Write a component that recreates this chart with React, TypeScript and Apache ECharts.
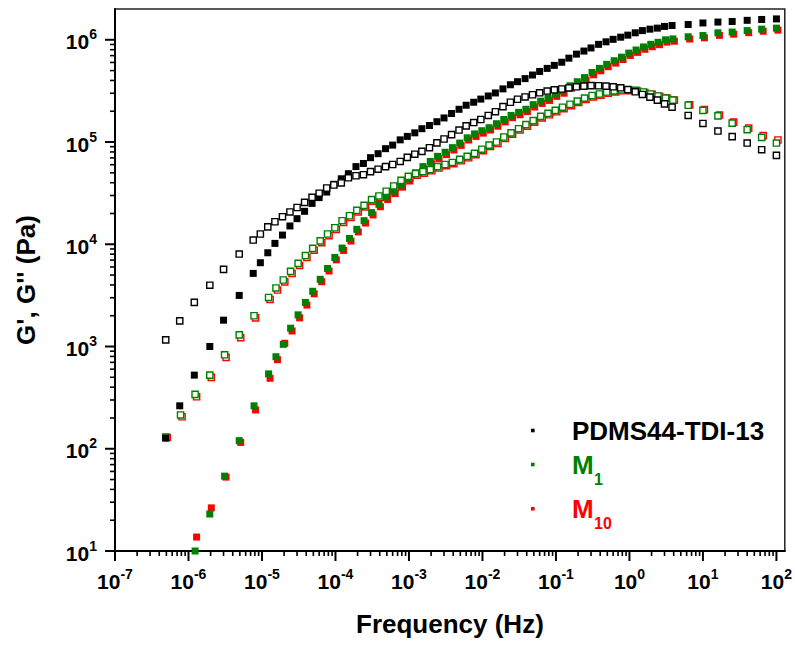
import React, { useEffect, useRef } from "react";
import * as echarts from "echarts";

// ---------- data (frequency in Hz, moduli in Pa) ----------
const freqPDMS = [
  4.9e-7, 7.6e-7, 1.2e-6, 1.95e-6, 3.0e-6, 4.9e-6,
  7.6e-6, 9.5e-6, 1.2e-5, 1.5e-5, 1.9e-5, 2.4e-5, 3.0e-5, 3.8e-5, 4.8e-5, 6.0e-5, 7.6e-5, 9.5e-5,
  1.2e-4, 1.5e-4, 1.9e-4, 2.4e-4, 3.0e-4, 3.8e-4, 4.8e-4, 6.0e-4, 7.6e-4, 9.5e-4,
  1.2e-3, 1.5e-3, 1.9e-3, 2.4e-3, 3.0e-3, 3.8e-3, 4.8e-3, 6.0e-3, 7.6e-3, 9.5e-3,
  0.012, 0.015, 0.019, 0.024, 0.030, 0.038, 0.048, 0.060, 0.076, 0.095,
  0.12, 0.15, 0.19, 0.24, 0.30, 0.38, 0.48, 0.60, 0.76, 0.95,
  1.2, 1.5, 1.9, 2.4, 3.0, 3.8,
  6.3, 10, 16, 25, 40, 63, 100,
];
const gPrimePDMS = [
  127, 263, 525, 1000, 1810, 3160,
  5190, 6600, 8260, 10200, 12300, 15100, 17800, 21000, 25100, 28600, 32400, 38600,
  43700, 49000, 57500, 61700, 70300, 76900, 86100, 93300, 105000, 113500,
  123000, 135000, 145000, 158000, 172000, 190000, 209000, 229000, 245000, 263000,
  282000, 302000, 331000, 363000, 389000, 417000, 452000, 490000, 525000, 562000,
  603000, 661000, 724000, 776000, 832000, 902000, 955000, 1010000, 1060000, 1110000,
  1170000, 1230000, 1270000, 1300000, 1350000, 1380000,
  1410000, 1460000, 1490000, 1510000, 1550000, 1580000, 1600000,
];
const gDoublePrimePDMS = [
  1160, 1780, 2700, 3980, 5680, 8020,
  11000, 12600, 14800, 16600, 18600, 20700, 22900, 25700, 28800, 31600, 35500, 38000,
  39800, 44700, 46800, 47900, 51300, 54200, 57500, 60300, 64600, 70800,
  76000, 81000, 88000, 98000, 107000, 118000, 131000, 144000, 155000, 166000,
  182000, 198000, 222000, 245000, 262000, 276000, 290000, 303000, 315000, 324000,
  330000, 338000, 347000, 352000, 356000, 355000, 352000, 347000, 339000, 326000,
  310000, 292000, 275000, 257000, 236000, 219000,
  182000, 152000, 128000, 113000, 97700, 84100, 74100,
];

const freqM = [
  4.9e-7, 7.8e-7, 1.23e-6, 1.95e-6, 3.1e-6, 4.9e-6, 7.8e-6, 1.23e-5,
  1.55e-5, 1.95e-5, 2.45e-5, 3.1e-5, 3.9e-5, 4.9e-5, 6.2e-5, 7.8e-5, 9.8e-5,
  1.23e-4, 1.55e-4, 1.95e-4, 2.45e-4, 3.1e-4, 3.9e-4, 4.9e-4, 6.2e-4, 7.8e-4, 9.8e-4,
  1.23e-3, 1.55e-3, 1.95e-3, 2.45e-3, 3.1e-3, 3.9e-3, 4.9e-3, 6.2e-3, 7.8e-3, 9.8e-3,
  0.0123, 0.0155, 0.0195, 0.0245, 0.031, 0.039, 0.049, 0.062, 0.078, 0.098,
  0.123, 0.155, 0.195, 0.245, 0.31, 0.39, 0.49, 0.62, 0.78, 0.98,
  1.23, 1.55, 1.95, 2.45, 3.1, 3.9,
  6.3, 10, 16, 25, 40, 63, 100,
];
const gPrimeM1 = [
  null, null, 10, 23, 54, 120, 263, 540,
  794, 1050, 1510, 2040, 2700, 3470, 4540, 5800, 7430,
  9180, 11400, 14000, 17000, 20400, 24600, 29000, 33100, 38000, 43700,
  50100, 57500, 64600, 72400, 79400, 88100, 97700, 110000, 120000, 129000,
  138000, 151000, 166000, 182000, 195000, 209000, 232000, 251000, 269000, 295000,
  316000, 355000, 389000, 427000, 479000, 525000, 575000, 624000, 676000, 741000,
  794000, 851000, 902000, 944000, 1000000, 1020000,
  1070000, 1100000, 1170000, 1190000, 1230000, 1270000, 1300000,
];
const gDoublePrimeM1 = [
  130, 214, 340, 525, 830, 1300, 2000, 3020,
  3740, 4470, 5430, 6500, 7760, 9120, 10800, 12600, 14500,
  17000, 19000, 21500, 24000, 27300, 29700, 33000, 37200, 42200, 46200,
  49000, 51300, 53700, 57500, 60300, 63100, 67600, 72400, 77600, 85100,
  93300, 100000, 112000, 123000, 135000, 148000, 162000, 178000, 191000, 204000,
  219000, 234000, 251000, 269000, 285000, 295000, 308000, 316000, 324000, 324000,
  320000, 309000, 295000, 282000, 269000, 257000,
  229000, 204000, 180000, 153000, 132000, 111000, 97700,
];
const gPrimeM10 = [
  null, null, 14, 27, 54, 118, 245, 500,
  760, 1100, 1450, 1950, 2600, 3350, 4400, 5600, 7200,
  8900, 11000, 13500, 16500, 19800, 23800, 28000, 32000, 37000, 42500,
  48600, 55800, 62700, 70200, 77000, 85500, 94800, 107000, 116000, 125000,
  134000, 146000, 161000, 177000, 189000, 203000, 225000, 244000, 261000, 286000,
  307000, 344000, 377000, 414000, 465000, 509000, 558000, 605000, 656000, 719000,
  770000, 826000, 875000, 916000, 970000, 990000,
  1040000, 1070000, 1130000, 1160000, 1200000, 1240000, 1270000,
];
const gDoublePrimeM10 = [
  132, 210, 330, 510, 800, 1250, 1950, 2950,
  3650, 4380, 5300, 6350, 7600, 8950, 10600, 12400, 14300,
  16700, 18700, 21200, 23700, 27000, 29300, 32600, 36700, 41600, 45600,
  48500, 50800, 53500, 57000, 60000, 62800, 67000, 71800, 77000, 84300,
  92500, 99000, 111000, 122000, 134000, 146000, 160000, 176000, 189000, 202000,
  217000, 232000, 249000, 267000, 283000, 294000, 307000, 316000, 324000, 325000,
  322000, 312000, 299000, 287000, 275000, 263000,
  236000, 212000, 188000, 160000, 140000, 118000, 107000,
];

// axis decades and minor-tick mantissas
const xDecades = [-7, -6, -5, -4, -3, -2, -1, 0, 1, 2];
const yDecades = [1, 2, 3, 4, 5, 6];
const minorMantissas = [2, 3, 4, 5, 6, 7, 8, 9];
const xMin = 1e-7;
const xMax = 130;
const yMin = 10;
const yMax = 2e6;

// legend
const legendNames = ["PDMS44-TDI-13", "M", "M"];
const legendSubs = ["", "1", "10"];
const legendColors = ["#000000", "#008000", "#ff0000"];

const FONT = '"Liberation Sans", Arial, Helvetica, sans-serif';

function pairs(freq: number[], vals: (number | null)[]) {
  const out: number[][] = [];
  freq.forEach((f, i) => {
    const v = vals[i];
    if (v != null) out.push([f, v]);
  });
  return out;
}

function buildTicks() {
  const data: number[][] = [];
  xDecades.forEach((e) => {
    const base = Math.pow(10, e);
    data.push([base, yMin, 0]);
    minorMantissas.forEach((m) => {
      const v = m * base;
      if (v < xMax) data.push([v, yMin, 1]);
    });
  });
  yDecades.forEach((e) => {
    const base = Math.pow(10, e);
    data.push([xMin, base, 2]);
    minorMantissas.forEach((m) => {
      const v = m * base;
      if (v < yMax) data.push([xMin, v, 3]);
    });
  });
  return data;
}

function powLabel(v: number) {
  const e = Math.log10(v);
  const r = Math.round(e);
  if (Math.abs(e - r) > 1e-6) return "";
  return `{b|10}{s|${r}}`;
}

const labelRich = {
  b: { fontSize: 21, fontWeight: "bold", fontFamily: FONT, color: "#000", padding: [4, 0, 0, 0] },
  s: { fontSize: 14, fontWeight: "bold", fontFamily: FONT, color: "#000", verticalAlign: "top" },
};

function scatter(name: string, freq: number[], vals: (number | null)[], color: string, open: boolean, offset: number[]) {
  return {
    type: "scatter",
    name,
    data: pairs(freq, vals),
    symbol: "rect",
    symbolSize: open ? 6.2 : 7,
    symbolOffset: offset,
    clip: true,
    silent: true,
    z: 3,
    itemStyle: open
      ? { color: "#ffffff", borderColor: color, borderWidth: 1.4, opacity: 1 }
      : { color, opacity: 1 },
  };
}

function buildOption() {
  const graphic: any[] = [];
  const rowY = [430.5, 464.5, 508.8];
  legendNames.forEach((n, i) => {
    graphic.push({
      type: "rect",
      shape: { x: 531, y: rowY[i] - 1.8, width: 3.6, height: 3.6 },
      style: { fill: legendColors[i] },
    });
    graphic.push({
      type: "text",
      x: 572,
      y: rowY[i],
      style: {
        text: n,
        fill: legendColors[i],
        fontSize: 26,
        fontWeight: "bold",
        fontFamily: FONT,
        align: "left",
        verticalAlign: "middle",
      },
    });
    if (legendSubs[i]) {
      graphic.push({
        type: "text",
        x: 594,
        y: rowY[i] + 15,
        style: {
          text: legendSubs[i],
          fill: legendColors[i],
          fontSize: 16,
          fontWeight: "bold",
          fontFamily: FONT,
          align: "left",
          verticalAlign: "middle",
        },
      });
    }
  });

  return {
    animation: false,
    backgroundColor: "#ffffff",
    grid: {
      left: 115,
      right: 7,
      top: 9,
      bottom: 94,
      show: true,
      borderColor: "#222",
      borderWidth: 1.5,
      backgroundColor: "transparent",
    },
    xAxis: {
      type: "log",
      logBase: 10,
      min: xMin,
      max: xMax,
      name: "Frequency (Hz)",
      nameLocation: "middle",
      nameGap: 60,
      nameTextStyle: { fontSize: 26, fontWeight: "bold", fontFamily: FONT, color: "#000" },
      axisLine: { show: true, lineStyle: { color: "#000", width: 2 } },
      axisTick: { show: false },
      splitLine: { show: false },
      minorTick: { show: false },
      axisLabel: { margin: 16, formatter: powLabel, rich: labelRich, showMaxLabel: true, showMinLabel: true },
    },
    yAxis: {
      type: "log",
      logBase: 10,
      min: yMin,
      max: yMax,
      name: "G', G'' (Pa)",
      nameLocation: "middle",
      nameGap: 76,
      nameTextStyle: { fontSize: 26, fontWeight: "bold", fontFamily: FONT, color: "#000" },
      axisLine: { show: true, lineStyle: { color: "#000", width: 2 } },
      axisTick: { show: false },
      splitLine: { show: false },
      minorTick: { show: false },
      axisLabel: { margin: 18, formatter: powLabel, rich: labelRich },
    },
    graphic,
    series: [
      {
        type: "custom",
        name: "ticks",
        coordinateSystem: "cartesian2d",
        clip: false,
        silent: true,
        z: 5,
        data: buildTicks(),
        encode: { x: 0, y: 1 },
        renderItem: (_params: any, api: any) => {
          const p = api.coord([api.value(0), api.value(1)]);
          const k = api.value(2);
          const major = k === 0 || k === 2;
          const len = major ? 10 : 5;
          const style = { stroke: "#000", lineWidth: major ? 2 : 1.6 };
          if (k < 2) {
            return { type: "line", shape: { x1: p[0], y1: p[1], x2: p[0], y2: p[1] + len }, style };
          }
          return { type: "line", shape: { x1: p[0] - len, y1: p[1], x2: p[0], y2: p[1] }, style };
        },
      },
      scatter("M10 G'", freqM, gPrimeM10, "#ff0000", false, [1.5, 1]),
      scatter("M10 G''", freqM, gDoublePrimeM10, "#ff0000", true, [1.5, 1]),
      scatter("M1 G'", freqM, gPrimeM1, "#008000", false, [0, 0]),
      scatter("M1 G''", freqM, gDoublePrimeM1, "#008000", true, [0, 0]),
      scatter("PDMS44-TDI-13 G'", freqPDMS, gPrimePDMS, "#000000", false, [0, 0]),
      scatter("PDMS44-TDI-13 G''", freqPDMS, gDoublePrimePDMS, "#000000", true, [0, 0]),
    ],
  };
}

export default function App() {
  const ref = useRef<HTMLDivElement>(null);
  useEffect(() => {
    if (!ref.current) return;
    const chart = echarts.init(ref.current, null, { renderer: "svg" });
    chart.setOption(buildOption() as any);
    return () => chart.dispose();
  }, []);
  return (
    <div
      ref={ref}
      style={{ position: "absolute", left: 0, top: 0, width: 795, height: 645, background: "#fff" }}
    />
  );
}
